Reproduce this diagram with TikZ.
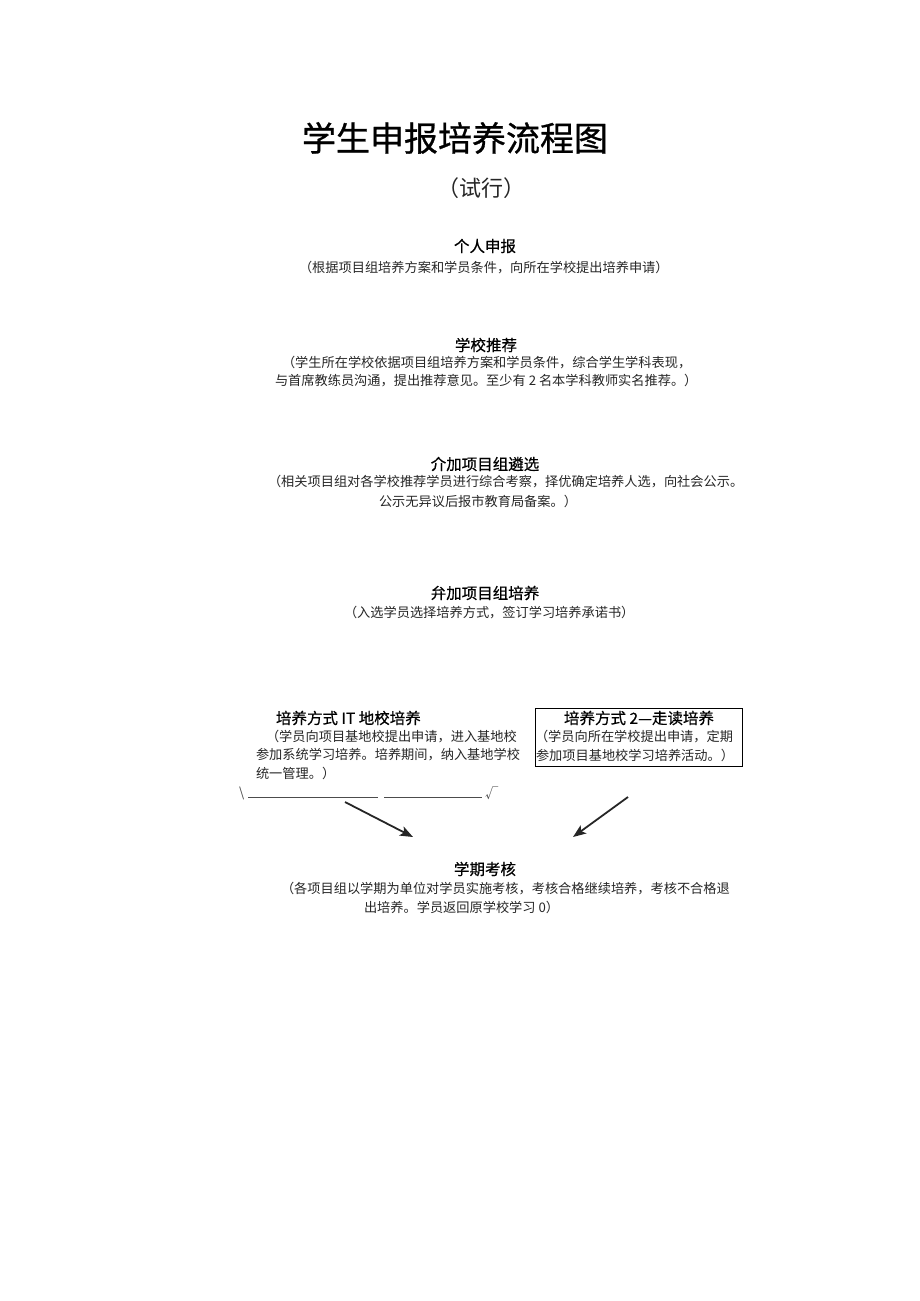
\documentclass[tikz,border=0pt]{standalone}
\usepackage{fontspec}
\usetikzlibrary{arrows.meta}
\newfontfamily\cjk{Noto Sans CJK SC}
\newfontfamily\cjktitle[FakeBold=0.8]{Noto Sans CJK SC}
\newfontfamily\cjkhead[FakeBold=0.5]{Noto Sans CJK SC}
\begin{document}
\begin{tikzpicture}[
    x=1pt, y=-1pt,
    every node/.style={inner sep=0pt, outer sep=0pt},
    titletext/.style={font=\cjktitle\fontsize{34}{40}\selectfont},
    subtitletext/.style={font=\cjk\fontsize{22}{26}\selectfont, text=black!85},
    headtext/.style={font=\cjkhead\fontsize{15.5}{18}\selectfont},
    bodytext/.style={anchor=west, font=\cjk\fontsize{13.2}{15}\selectfont, text=black!85},
    modebox/.style={draw, line width=0.8pt, minimum width=207pt, minimum height=58pt},
    edge/.style={draw, ->, >={Stealth[length=13pt, width=10pt, inset=3pt]}, line width=1.8pt, black!85},
    rulerline/.style={draw, line width=0.5pt, black!70}
]
\useasboundingbox (0,0) rectangle (920,1301);

% Title
\node[titletext] (title) at (455,138) {学生申报培养流程图};
\node[subtitletext] (trial) at (481,188) {（试行）};

% Step 1
\node[headtext] (apply) at (485,246) {个人申报};
\node[bodytext] (apply1) at (299,268) {（根据项目组培养方案和学员条件，向所在学校提出培养申请）};

% Step 2
\node[headtext] (recommend) at (486,345) {学校推荐};
\node[bodytext] (recommend1) at (282,363) {（学生所在学校依据项目组培养方案和学员条件，综合学生学科表现，};
\node[bodytext] (recommend2) at (275,381) {与首席教练员沟通，提出推荐意见。至少有 2 名本学科教师实名推荐。）};

% Step 3
\node[headtext] (select) at (485,464) {介加项目组遴选};
\node[bodytext] (select1) at (268,482) {（相关项目组对各学校推荐学员进行综合考察，择优确定培养人选，向社会公示。};
\node[bodytext] (select2) at (379,501) {公示无异议后报市教育局备案。）};

% Step 4
\node[headtext] (train) at (485,593) {弁加项目组培养};
\node[bodytext] (train1) at (344,613) {（入选学员选择培养方式，签订学习培养承诺书）};

% Mode 1
\node[headtext, anchor=west] (modeA) at (276,718) {培养方式 IT 地校培养};
\node[bodytext] (modeA1) at (266,737) {（学员向项目基地校提出申请，进入基地校};
\node[bodytext] (modeA2) at (256,755) {参加系统学习培养。培养期间，纳入基地学校};
\node[bodytext] (modeA3) at (256,773) {统一管理。）};
\node[bodytext, text=black!70] (slash) at (239,793) {\textbackslash};
\node[bodytext, text=black!70] (tick) at (485,793) {√};
\coordinate (ruleA) at (248,797);
\coordinate (ruleB) at (378,797);
\coordinate (ruleC) at (384,797);
\coordinate (ruleD) at (482,797);
\draw[rulerline] (ruleA) -- (ruleB);
\draw[rulerline] (ruleC) -- (ruleD);

% Mode 2
\node[modebox] (modeB) at (638.5,737) {};
\node[headtext] (modeBhead) at (639,718) {培养方式 2—走读培养};
\node[bodytext] (modeB1) at (535,737) {（学员向所在学校提出申请，定期};
\node[bodytext] (modeB2) at (536,755) {参加项目基地校学习培养活动。）};

% Step 5
\node[headtext] (exam) at (485,869) {学期考核};
\node[bodytext] (exam1) at (281,889) {（各项目组以学期为单位对学员实施考核，考核合格继续培养，考核不合格退};
\node[bodytext] (exam2) at (364,907) {出培养。学员返回原学校学习 0）};

% Arrows into Step 5
\coordinate (fromA) at (345,802);
\coordinate (toA) at (413,837);
\coordinate (fromB) at (628,797);
\coordinate (toB) at (573,837);
\draw[edge] (fromA) -- (toA);
\draw[edge] (fromB) -- (toB);
\end{tikzpicture}
\end{document}
